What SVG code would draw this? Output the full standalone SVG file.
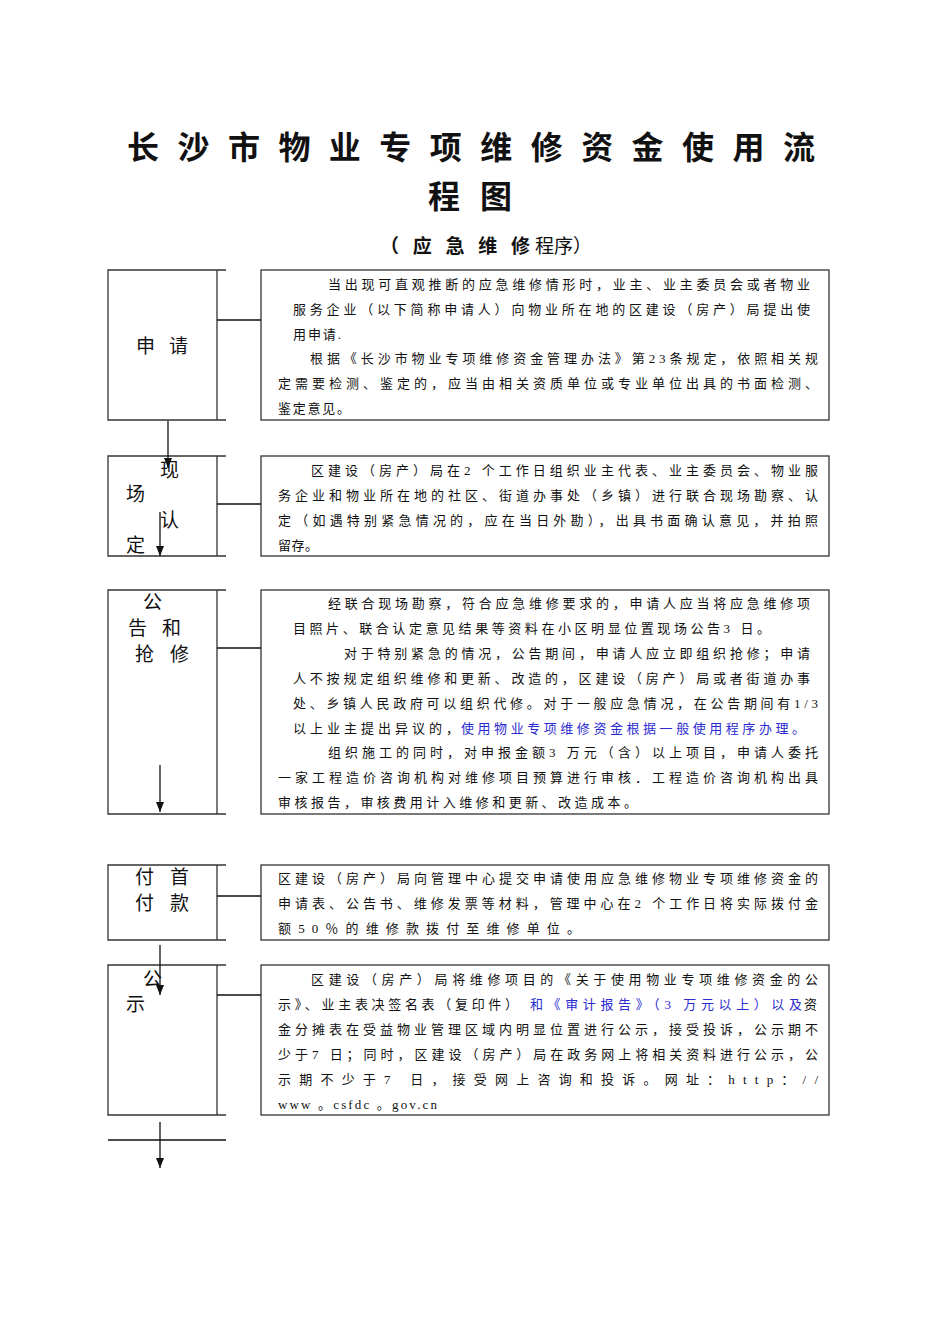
<svg xmlns="http://www.w3.org/2000/svg" width="950" height="1344" viewBox="0 0 950 1344">
<defs>
<style>
.t{font-family:"Liberation Serif","Noto Sans CJK SC",serif;font-size:13px;fill:#111}
.b{fill:#2a2ad0}
.lab{font-family:"Noto Sans CJK SC",sans-serif;font-size:19px;fill:#111}
.title{font-family:"Noto Sans CJK SC",sans-serif;font-size:32px;font-weight:bold;fill:#111}
.box{fill:none;stroke:#333;stroke-width:1.3}
.ln{stroke:#111;stroke-width:1.3;fill:none}
</style>
<marker id="ah" markerWidth="10" markerHeight="8" refX="10" refY="4" orient="auto" markerUnits="userSpaceOnUse" viewBox="0 0 10 8"><path d="M0,0 L10,4 L0,8 Z" fill="#111"/></marker>
</defs>
<rect width="950" height="1344" fill="#fff"/>
<g id="title">
<text class="title" x="127" y="159" textLength="688" lengthAdjust="spacing">长沙市物业专项维修资金使用流</text>
<text class="title" x="428" y="208" textLength="84" lengthAdjust="spacing">程图</text>
<text class="lab" x="380" y="253" font-size="24" font-weight="bold" textLength="150" lengthAdjust="spacing">（应急维修</text>
<text class="lab" x="535" y="253" font-size="15">程序）</text>
</g>
<g id="n1">
<path class="box" d="M226,270 H108 V420 H226 M217,270 V420"/>
<text class="lab" x="136" y="353" textLength="52" lengthAdjust="spacing">申请</text>
<rect class="box" x="261" y="270" width="568" height="150"/>
<text class="t" x="328" y="289" textLength="482" lengthAdjust="spacing">当出现可直观推断的应急维修情形时，业主、业主委员会或者物业</text>
<text class="t" x="293" y="314" textLength="517" lengthAdjust="spacing">服务企业（以下简称申请人）向物业所在地的区建设（房产）局提出使</text>
<text class="t" x="293" y="339" textLength="48" lengthAdjust="spacing">用申请.</text>
<text class="t" x="310" y="363" textLength="508" lengthAdjust="spacing">根据《长沙市物业专项维修资金管理办法》第23条规定，依照相关规</text>
<text class="t" x="278" y="388" textLength="540" lengthAdjust="spacing">定需要检测、鉴定的，应当由相关资质单位或专业单位出具的书面检测、</text>
<text class="t" x="278" y="413" textLength="72" lengthAdjust="spacing">鉴定意见。</text>
</g>
<g id="n2">
<path class="box" d="M226,456 H108 V556 H226 M217,456 V556"/>
<text class="lab" x="160" y="477">现</text>
<text class="lab" x="126" y="501">场</text>
<text class="lab" x="160" y="527">认</text>
<text class="lab" x="126" y="552">定</text>
<rect class="box" x="261" y="456" width="568" height="100"/>
<text class="t" x="311" y="475" textLength="507" lengthAdjust="spacing">区建设（房产）局在2 个工作日组织业主代表、业主委员会、物业服</text>
<text class="t" x="278" y="500" textLength="540" lengthAdjust="spacing">务企业和物业所在地的社区、街道办事处（乡镇）进行联合现场勘察、认</text>
<text class="t" x="278" y="525" textLength="540" lengthAdjust="spacing">定（如遇特别紧急情况的，应在当日外勘），出具书面确认意见，并拍照</text>
<text class="t" x="278" y="550" textLength="40" lengthAdjust="spacing">留存。</text>
</g>
<g id="n3">
<path class="box" d="M226,590 H108 V814 H226 M217,590 V814"/>
<text class="lab" x="143" y="609">公</text>
<text class="lab" x="128" y="635" textLength="53" lengthAdjust="spacing">告和</text>
<text class="lab" x="135" y="661" textLength="54" lengthAdjust="spacing">抢修</text>
<rect class="box" x="261" y="590" width="568" height="224"/>
<text class="t" x="328" y="608" textLength="482" lengthAdjust="spacing">经联合现场勘察，符合应急维修要求的，申请人应当将应急维修项</text>
<text class="t" x="293" y="633" textLength="477" lengthAdjust="spacing">目照片、联合认定意见结果等资料在小区明显位置现场公告3 日。</text>
<text class="t" x="344" y="658" textLength="466" lengthAdjust="spacing">对于特别紧急的情况，公告期间，申请人应立即组织抢修；申请</text>
<text class="t" x="293" y="683" textLength="517" lengthAdjust="spacing">人不按规定组织维修和更新、改造的，区建设（房产）局或者街道办事</text>
<text class="t" x="293" y="708" textLength="525" lengthAdjust="spacing">处、乡镇人民政府可以组织代修。对于一般应急情况，在公告期间有1/3</text>
<text class="t" x="293" y="733" textLength="166" lengthAdjust="spacing">以上业主提出异议的，</text>
<text class="t b" x="461" y="733" textLength="344" lengthAdjust="spacing">使用物业专项维修资金根据一般使用程序办理。</text>
<text class="t" x="328" y="757" textLength="490" lengthAdjust="spacing">组织施工的同时，对申报金额3 万元（含）以上项目，申请人委托</text>
<text class="t" x="278" y="782" textLength="540" lengthAdjust="spacing">一家工程造价咨询机构对维修项目预算进行审核．工程造价咨询机构出具</text>
<text class="t" x="278" y="807" textLength="359" lengthAdjust="spacing">审核报告，审核费用计入维修和更新、改造成本。</text>
</g>
<g id="n4">
<path class="box" d="M226,865 H108 V940 H226 M217,865 V940"/>
<text class="lab" x="135" y="884" textLength="54" lengthAdjust="spacing">付首</text>
<text class="lab" x="135" y="910" textLength="54" lengthAdjust="spacing">付款</text>
<rect class="box" x="261" y="865" width="568" height="75"/>
<text class="t" x="278" y="883" textLength="540" lengthAdjust="spacing">区建设（房产）局向管理中心提交申请使用应急维修物业专项维修资金的</text>
<text class="t" x="278" y="908" textLength="540" lengthAdjust="spacing">申请表、公告书、维修发票等材料，管理中心在2 个工作日将实际拨付金</text>
<text class="t" x="278" y="933" textLength="302" lengthAdjust="spacing">额50％的维修款拨付至维修单位。</text>
</g>
<g id="n5">
<path class="box" d="M226,965 H108 V1115 H226 M217,965 V1115"/>
<text class="lab" x="143" y="986">公</text>
<text class="lab" x="126" y="1011">示</text>
<rect class="box" x="261" y="965" width="568" height="150"/>
<text class="t" x="311" y="984" textLength="507" lengthAdjust="spacing">区建设（房产）局将维修项目的《关于使用物业专项维修资金的公</text>
<text class="t" x="278" y="1009" textLength="240" lengthAdjust="spacing">示》、业主表决签名表（复印件）</text>
<text class="t b" x="530" y="1009" textLength="272" lengthAdjust="spacing">和《审计报告》（3 万元以上）以及</text>
<text class="t" x="804" y="1009">资</text>
<text class="t" x="278" y="1034" textLength="540" lengthAdjust="spacing">金分摊表在受益物业管理区域内明显位置进行公示，接受投诉，公示期不</text>
<text class="t" x="278" y="1059" textLength="540" lengthAdjust="spacing">少于7 日；同时，区建设（房产）局在政务网上将相关资料进行公示，公</text>
<text class="t" x="278" y="1084" textLength="540" lengthAdjust="spacing">示期不少于7 日，接受网上咨询和投诉。网址：http：//</text>
<text class="t" x="278" y="1109" textLength="159" lengthAdjust="spacing">www 。csfdc 。gov.cn</text>
</g>
<g id="connectors">
<line class="ln" x1="217" y1="320" x2="261" y2="320"/>
<line class="ln" x1="217" y1="504" x2="261" y2="504"/>
<line class="ln" x1="217" y1="648" x2="261" y2="648"/>
<line class="ln" x1="217" y1="896" x2="261" y2="896"/>
<line class="ln" x1="217" y1="995" x2="261" y2="995"/>
<line class="ln" x1="108" y1="1140" x2="226" y2="1140"/>
<line class="ln" x1="168" y1="421" x2="168" y2="468" marker-end="url(#ah)"/>
<line class="ln" x1="160" y1="512" x2="160" y2="556" marker-end="url(#ah)"/>
<line class="ln" x1="160" y1="765" x2="160" y2="812" marker-end="url(#ah)"/>
<line class="ln" x1="160" y1="945" x2="160" y2="995" marker-end="url(#ah)"/>
<line class="ln" x1="160" y1="1122" x2="160" y2="1168" marker-end="url(#ah)"/>
</g>
</svg>
